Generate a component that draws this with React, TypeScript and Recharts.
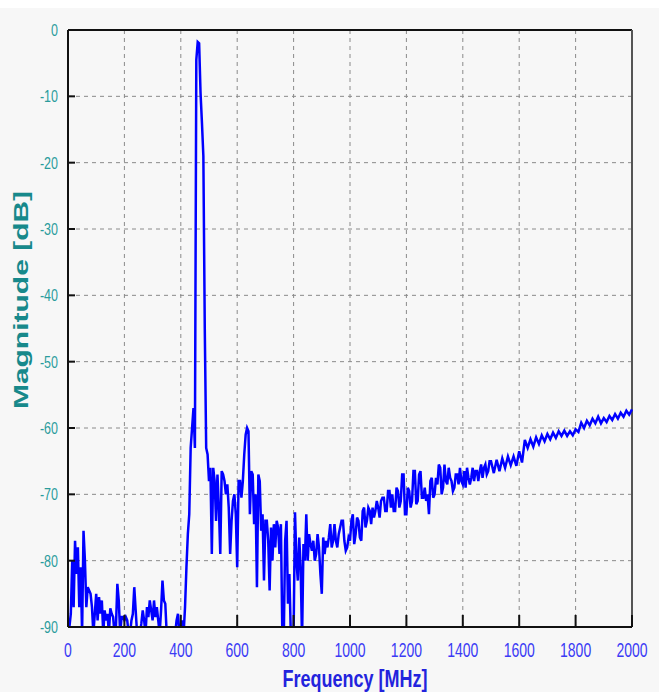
import React from "react";
import { LineChart, Line, XAxis, YAxis, CartesianGrid, ReferenceLine } from "recharts";

// Spectrum samples (dB). Values below -90 are clipped by the axis.
// 0 .. 395 MHz, 5 MHz spacing
const noiseFloor = [
  -90, -90, -88, -80, -87, -77, -82, -78, -87, -81,
  -91, -75.5, -80, -87, -84, -84.5, -85, -87, -91, -88,
  -85, -89, -85.5, -88, -86, -91, -87.5, -89, -88, -91,
  -87.2, -88, -88.5, -91, -90, -83.5, -86, -91, -88.5, -88.5,
  -89, -88.5, -89, -91, -91, -89, -88, -84, -87.5, -91,
  -91, -91, -89.5, -87.5, -89, -91, -87, -88.5, -86, -87.5,
  -89, -86, -88.5, -87, -89, -91, -87.5, -83, -86, -86.5,
  -91, -91, -91, -91, -91, -91, -91, -89, -88, -91,
];
// 400 .. 695 MHz, 5 MHz spacing
const mainPeak = [
  -91, -89, -91, -87, -81, -76, -73, -63, -60, -57,
  -63, -4.5, -1.8, -2, -9.5, -14, -19, -45, -63, -64,
  -68, -66, -79, -66, -68, -74, -67, -72, -79, -66.5,
  -67, -68, -70, -68.5, -72, -79, -74, -71, -70, -73,
  -81, -68, -68, -70.5, -68, -64, -61, -60, -60.5, -73,
  -66.5, -67, -74.5, -70, -84, -67, -68, -75.5, -73, -83,
];
// 700 .. 995 MHz, 5 MHz spacing
const midBand = [
  -74, -74, -77, -84.5, -75, -80, -74.5, -78, -74, -75,
  -79, -74.5, -91, -92, -77, -74, -86.5, -82, -91, -92,
  -91, -72.7, -80, -83, -76.5, -81, -92, -77.5, -80, -73,
  -80, -76, -77.5, -78.5, -77, -80, -79, -76, -78, -82,
  -85, -76.5, -79, -77, -78, -76.5, -74.5, -78, -77, -74.5,
  -77, -78, -76, -75, -74, -74, -77, -78.5, -78, -76.5,
];
// 1000 .. 1495 MHz, 5 MHz spacing
const risingBand = [
  -77, -74, -73, -77.5, -76, -73.5, -74, -76.5, -77, -72.5,
  -72, -75, -74, -72, -72.5, -74.5, -72, -73.5, -72.5, -71,
  -72, -73.5, -71, -70.5, -70.5, -72.5, -72.5, -69.5, -69.5, -72,
  -70, -72.5, -72.5, -69, -69.5, -72, -71, -67, -67, -73,
  -73, -69, -69.5, -72, -71, -66.5, -66.5, -71.5, -71, -67,
  -66.5, -70.5, -70.5, -69, -71, -70, -73, -68, -67.5, -70.5,
  -70, -67.5, -68.5, -65.5, -66, -70, -69, -65.5, -68, -68.5,
  -66, -67.5, -68, -69.5, -69, -67, -67, -68.5, -66, -68,
  -68.5, -66.5, -69, -66, -67.5, -68.5, -67.5, -66, -68, -66.5,
  -66.5, -68, -66.5, -65.5, -67.5, -66, -65.5, -67, -66.5, -65,
];
// 1500 .. 2000 MHz, 10 MHz spacing
const upperBand = [
  -65, -66.8, -64.8, -66.5, -64.6, -66, -64.3, -65.6, -64.3, -65.7,
  -63.5, -65.2, -61.8, -63, -61.7, -62.8, -61.4, -62.4, -61.1, -62,
  -60.9, -61.7, -60.7, -61.5, -60.5, -61.2, -60.4, -61.2, -60.5, -61.1,
  -60.2, -60.6, -59.2, -60, -58.9, -59.6, -58.6, -59.3, -58.3, -59.3,
  -58.5, -59.1, -58.2, -58.8, -57.9, -58.6, -57.7, -58.3, -57.4, -58,
  -57.2,
];

const segments = [
  { start: 0, step: 5, values: noiseFloor },
  { start: 400, step: 5, values: mainPeak },
  { start: 700, step: 5, values: midBand },
  { start: 1000, step: 5, values: risingBand },
  { start: 1500, step: 10, values: upperBand },
];

const freqTicks = [0, 200, 400, 600, 800, 1000, 1200, 1400, 1600, 1800, 2000];
const dbTicks = [0, -10, -20, -30, -40, -50, -60, -70, -80, -90];

const data = segments.flatMap((s) =>
  s.values.map((v, i) => ({ freq: s.start + i * s.step, mag: v }))
);

const FONT = "'Liberation Sans', Arial, sans-serif";

const YTick = (props: any) => {
  const { x, y, payload } = props;
  return (
    <g>
      <line x1={x + 10} y1={y} x2={x + 17} y2={y} stroke="#111" strokeWidth={2} />
      <text
        transform={`translate(${x},${y + 6}) scale(1,1.35)`}
        textAnchor="end"
        fill="#2a9c9c"
        fontSize={12.5}
        fontFamily={FONT}
      >
        {payload.value}
      </text>
    </g>
  );
};

const XTick = (props: any) => {
  const { x, y, payload } = props;
  return (
    <g>
      <line x1={x} y1={y} x2={x} y2={y - 12} stroke="#111" strokeWidth={2} />
      <text
        transform={`translate(${x},${y + 30}) scale(1,1.4)`}
        textAnchor="middle"
        fill="#3b3bf5"
        fontSize={14}
        fontFamily={FONT}
      >
        {payload.value}
      </text>
    </g>
  );
};

const XTitle = (props: any) => {
  const vb = props.viewBox || { x: 68, y: 627, width: 564, height: 65 };
  return (
    <text
      transform={`translate(${vb.x + vb.width / 2 + 5},${vb.y + 60}) scale(1,1.3)`}
      textAnchor="middle"
      fill="#2323dd"
      fontSize={18}
      fontWeight="bold"
      fontFamily={FONT}
    >
      Frequency [MHz]
    </text>
  );
};

const YTitle = (props: any) => {
  const vb = props.viewBox || { x: 18, y: 30, width: 50, height: 597 };
  return (
    <text
      transform={`translate(${vb.x + 10},${vb.y + 270}) scale(1,1.5) rotate(-90)`}
      textAnchor="middle"
      fill="#17898b"
      fontSize={20}
      fontWeight="bold"
      fontFamily={FONT}
    >
      Magnitude [dB]
    </text>
  );
};

export default function App() {
  return (
    <div
      style={{
        position: "absolute",
        left: 0,
        top: 0,
        width: 659,
        height: 692,
        background: "linear-gradient(#ffffff 0px, #ffffff 8px, #f7f7f7 8px)",
      }}
    >
      <LineChart
        width={659}
        height={692}
        data={data}
        margin={{ top: 30, right: 27, bottom: 0, left: 18 }}
      >
        <CartesianGrid stroke="#8a8a8a" strokeDasharray="4 4" />
        <XAxis
          dataKey="freq"
          type="number"
          domain={[0, 2000]}
          ticks={freqTicks}
          height={65}
          tickSize={0}
          tickMargin={0}
          tickLine={false}
          axisLine={{ stroke: "#111", strokeWidth: 2 }}
          tick={<XTick />}
          label={{ content: XTitle }}
        />
        <YAxis
          type="number"
          domain={[-90, 0]}
          ticks={dbTicks}
          allowDataOverflow
          width={50}
          tickSize={0}
          tickMargin={10}
          tickLine={false}
          axisLine={{ stroke: "#111", strokeWidth: 2 }}
          tick={<YTick />}
          label={{ content: YTitle }}
        />
        <ReferenceLine y={0} stroke="#111" strokeWidth={2} />
        <ReferenceLine x={2000} stroke="#555" strokeWidth={2} />
        <Line
          type="linear"
          dataKey="mag"
          stroke="#0000ff"
          strokeWidth={2.5}
          dot={false}
          isAnimationActive={false}
        />
      </LineChart>
    </div>
  );
}
